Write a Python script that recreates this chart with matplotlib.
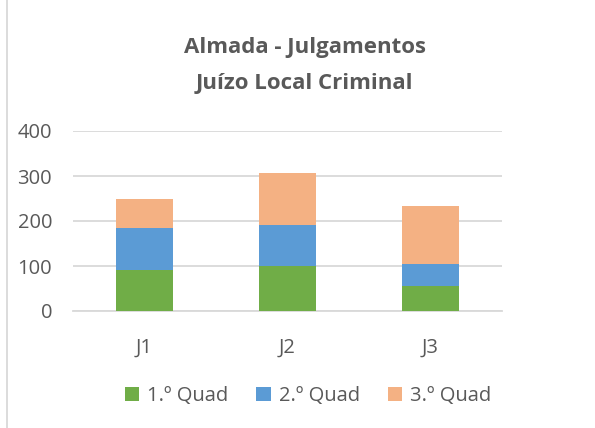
import matplotlib.pyplot as plt
import numpy as np

categories = ['J1', 'J2', 'J3']
quad1 = [92, 99, 55]
quad2 = [93, 92, 50]
quad3 = [65, 115, 129]
labels = ['1.º Quad', '2.º Quad', '3.º Quad']
colors = ['#70AD47', '#5B9BD5', '#F4B183']

plt.rcParams['font.family'] = ['Open Sans', 'DejaVu Sans']
txt = '#595959'

fig = plt.figure(figsize=(5.95, 4.28), dpi=100)
ax = fig.add_axes([73/595, 1-311/428, 429/595, 180/428])

x = np.arange(len(categories))
bottom = np.zeros(len(categories))
for vals, lab, col in zip([quad1, quad2, quad3], labels, colors):
	ax.bar(x, vals, 0.4, bottom=bottom, color=col, label=lab, zorder=3)
	bottom += np.array(vals)

ax.set_xlim(-0.5, 2.5)
ax.set_ylim(0, 400)
ax.set_yticks([0, 100, 200, 300, 400])
ax.set_xticks(x)
ax.set_xticklabels(categories)
ax.grid(axis='y', color='#D9D9D9', linewidth=1.3, zorder=0)
for s in ['top', 'right', 'left']:
	ax.spines[s].set_visible(False)
ax.spines['bottom'].set_color('#D9D9D9')
ax.spines['bottom'].set_linewidth(1.3)
ax.tick_params(length=0, colors=txt, labelsize=14.5)
ax.tick_params(axis='y', pad=15)
ax.tick_params(axis='x', pad=19)

fig.text(0.512, 1-47/428, 'Almada - Julgamentos', ha='center', va='center',
	fontsize=16, fontweight='bold', color=txt)
fig.text(0.512, 1-83/428, 'Juízo Local Criminal', ha='center', va='center',
	fontsize=16, fontweight='bold', color=txt)

ax.legend(loc='center', bbox_to_anchor=(0.548, -0.47), ncol=3, frameon=False,
	fontsize=14.5, labelcolor=txt, handlelength=0.7, handleheight=0.7,
	handletextpad=0.4, columnspacing=1.4)

fig.add_artist(plt.Line2D([7/595, 7/595], [0, 1], color='#D9D9D9', linewidth=1.3))

plt.savefig('out.png', dpi=100)
